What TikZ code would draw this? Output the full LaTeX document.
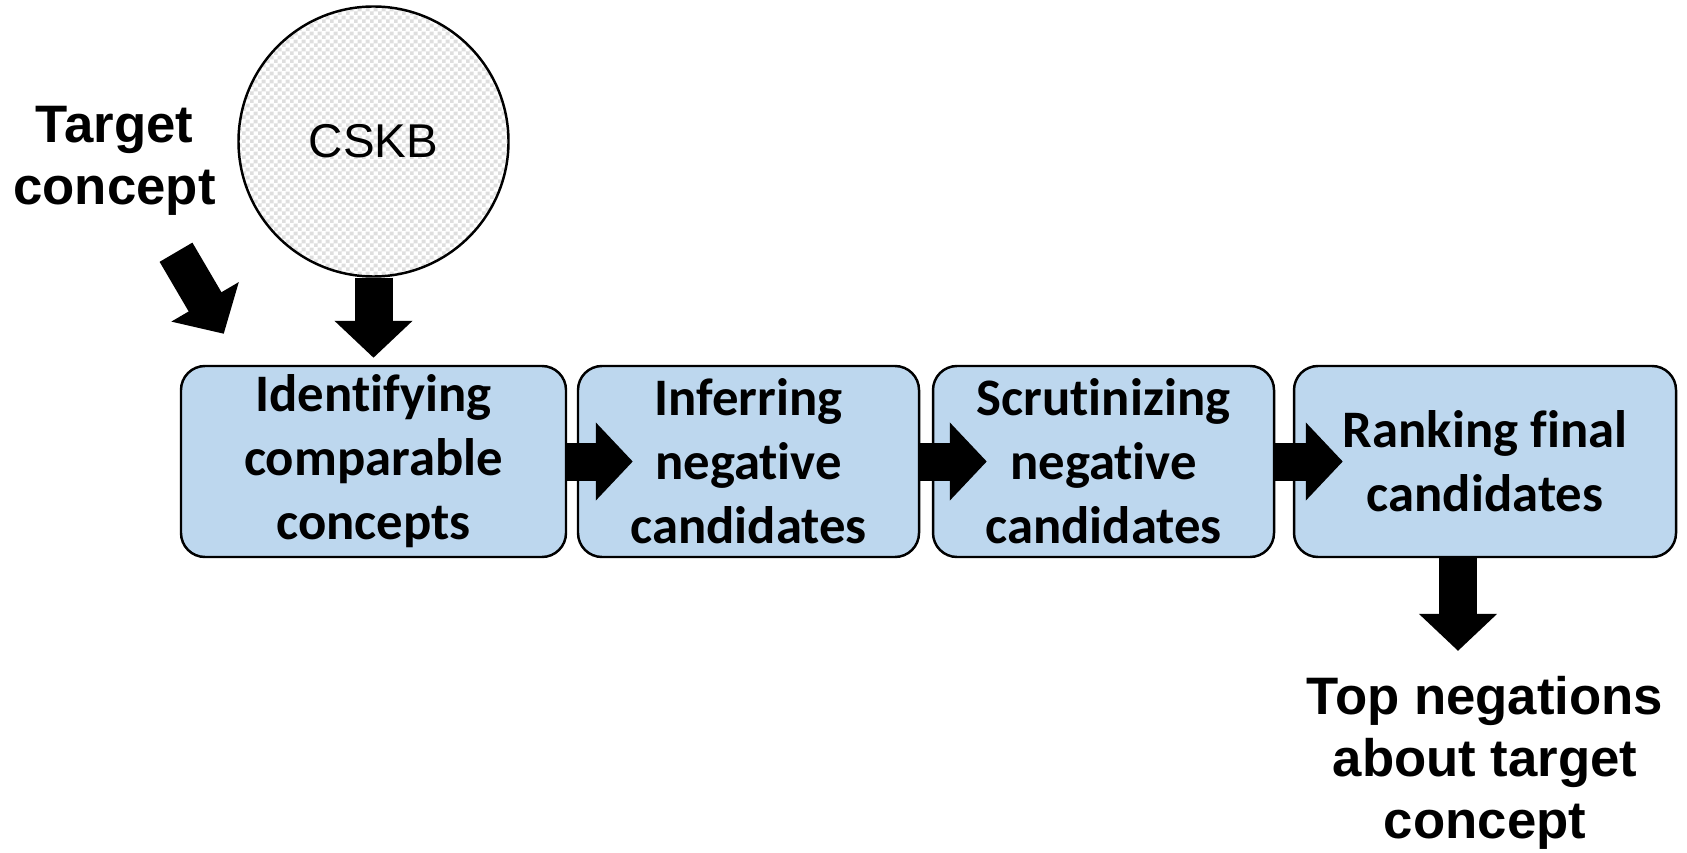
\documentclass[tikz,border=0pt]{standalone}
\usepackage{fontspec}
\setmainfont{Liberation Sans}
\newfontfamily\stagefont[Ligatures=NoCommon,Contextuals=NoAlternate]{Carlito}
\usetikzlibrary{arrows.meta,patterns}
\definecolor{stageblue}{HTML}{BDD7EE}
\pgfdeclarepatterninherentlycolored{kbchecker}{\pgfpointorigin}{\pgfpoint{2.3pt}{2.3pt}}{\pgfpoint{2.3pt}{2.3pt}}{%
  \pgfsetfillcolor{white}
  \pgfpathrectangle{\pgfpointorigin}{\pgfpoint{2.3pt}{2.3pt}}
  \pgfusepath{fill}
  \pgfsetfillcolor{black!13}
  \pgfpathrectangle{\pgfpointorigin}{\pgfpoint{1.15pt}{1.15pt}}
  \pgfpathrectangle{\pgfpoint{1.15pt}{1.15pt}}{\pgfpoint{1.15pt}{1.15pt}}
  \pgfusepath{fill}
}

\begin{document}
\begin{tikzpicture}[
  stage/.style={draw, line width=0.7pt, rounded corners=0.24cm, fill=stageblue,
    minimum height=1.910cm, inner sep=0pt, align=center,
    font=\stagefont\bfseries\fontsize{15}{18.2}\selectfont},
  io/.style={inner sep=0pt, align=center, font=\bfseries\fontsize{15}{17.6}\selectfont},
  blockarrow/.style={line width=0.380cm, -{Triangle[length=0.370cm,width=0.760cm]}}
]
\useasboundingbox (0,0) rectangle (16.870,-8.520);
% inputs
\node[io] (target) at (1.145,-1.605) {Target\\concept};
\node[circle, draw, line width=0.7pt, pattern=kbchecker,
  minimum size=2.700cm, inner sep=0pt] (cskb) at (3.735,-1.415) {};
\node[font=\fontsize{13.5}{16}\selectfont] at (cskb) {CSKB};
% pipeline
\node[stage, minimum width=3.850cm] (ident) at (3.735,-4.615) {Identifying\\comparable\\concepts};
\node[stage, minimum width=3.410cm] (infer) at (7.485,-4.615) {Inferring\\negative\\candidates};
\node[stage, minimum width=3.410cm] (scrut) at (11.035,-4.615) {Scrutinizing\\negative\\candidates};
\node[stage, minimum width=3.820cm] (rank) at (14.850,-4.615) {Ranking final\\candidates};
% output
\node[io] (top) at (14.850,-7.630) {Top negations\\about target\\concept};
% arrows
\draw[blockarrow] ([shift={(0.615,-0.365)}]target.south) -- ([shift={(0.440,0.310)}]ident.north west);
\draw[blockarrow] (cskb.south) -- ([yshift=0.070cm]cskb.south |- ident.north);
\draw[blockarrow] (ident.east) -- ([xshift=0.560cm]infer.west);
\draw[blockarrow] (infer.east) -- ([xshift=0.550cm]scrut.west);
\draw[blockarrow] (scrut.east) -- ([xshift=0.500cm]rank.west);
\draw[blockarrow] ([xshift=-0.270cm]rank.south) -- ([xshift=-0.270cm,yshift=0.250cm]top.north);
\end{tikzpicture}
\end{document}
